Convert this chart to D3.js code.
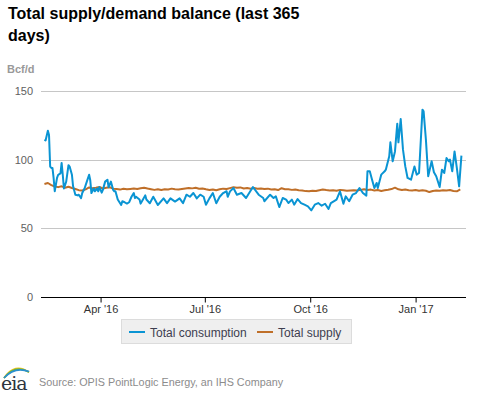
<!DOCTYPE html>
<html>
<head>
<meta charset="utf-8">
<script src="https://cdn.jsdelivr.net/npm/d3@7/dist/d3.min.js"></script>
<style>
  html, body { margin: 0; padding: 0; background: #fff; }
  svg { display: block; font-family: "Liberation Sans", Arial, sans-serif; }
</style>
</head>
<body>
<svg id="chart" width="477" height="393"></svg>
<script>
// ---------- DATA ----------
const startDate = "2016-02-12";
const axisStart = "2016-02-09";
const axisEnd = "2017-02-14";

// Total consumption: [days since startDate]
const consumptionDays = [0,1,3,4,5,6,7,8,9,11,12,14,15,16,17,19,21,22,24,25,27,29,30,32,33,35,37,39,40,41,43,44,46,47,48,50,51,53,55,56,58,60,61,62,64,67,68,70,72,74,76,78,79,80,83,84,86,88,89,
  92,95,99,104,107,110,114,118,121,124,127,130,133,136,139,141,144,147,150,153,156,159,160,
  162,165,168,172,176,182,187,191,192,197,200,202,205,208,211,213,216,218,221,224,227,230,233,236,239,242,245,248,250,255,258,261,263,266,269,272,275,278,281,
  282,284,286,288,290,291,294,297,298,301,302,304,306,308,309,311,313,315,317,320,323,325,327,330,331,333,335,338,340,342,345,347,349,351,353,354,356,358,360,362,364];
const consumptionValues = [114.6,114,121,118,95,94,94,86.7,77,86.7,89,90,97.6,89,79,84,96,95,89,80.6,74.5,74,74.5,72,75.7,79,84,89,85,75.7,79,77,79,77,80,76,78,84,85.4,80,84,78,77,77,71,67,69.7,69,68,69,73,75.7,72,73,71,68,71,74,71,
  68.3,73,67,71.8,68.3,71.8,69.5,71.8,68.3,74.5,73,75.7,71.8,74.5,73,67.2,71.8,75.7,68.3,73,75.7,77,73,
  76.9,79.4,74.5,75.7,72.1,80.1,74.5,72.1,69.7,74.5,72.1,73.3,65.5,72.1,70.9,68.4,70.9,67.2,71.3,68.4,67.2,66,63.1,67.2,68.4,66.5,67.9,64.1,68.4,70.9,76.9,67.9,73.3,69.7,74.5,75.7,79.4,75.7,73.8,
  91.5,91.5,85.4,79.4,83,79.4,89.1,91.5,92.7,102.4,112.6,98.8,106,126.2,112.6,129.6,107.3,95.1,86.7,85.4,95.1,89.1,90.3,136.4,135.2,114.6,87.9,98.8,90.8,87.9,80.1,92.7,90.3,101.2,98.8,100,91.5,106,94,80.6,102.9];

// Total supply: one reading every 3 days from startDate
const supplyStep = 3;
const supplyValues = [82.3,83.0,81.5,80.5,80.0,80.6,79.6,80.3,79.4,78.6,77.8,77.6,78.4,79.8,79.2,79.6,80.1,79.0,79.5,79.9,
  78.9,78.6,78.2,78.8,78.4,78.7,79.0,78.6,79.2,79.6,79.0,78.5,78.0,78.4,77.9,78.5,78.3,78.9,78.4,78.2,
  78.6,79.0,79.4,79.1,79.5,78.8,79.0,78.4,77.9,78.3,77.8,78.4,78.9,78.6,79.3,80.0,79.5,79.8,79.0,79.3,
  78.9,79.4,78.8,79.0,78.6,78.9,78.3,78.5,77.9,79.2,78.5,78.4,78.0,78.3,77.8,77.6,77.1,77.0,77.4,77.2,
  77.8,78.3,77.9,77.6,77.8,77.4,78.0,77.7,77.3,77.6,77.8,77.5,78.0,78.4,77.9,78.2,77.6,77.9,77.2,77.7,
  78.1,78.6,79.6,78.4,77.9,78.3,77.8,77.6,77.9,77.3,77.8,77.4,76.4,77.2,77.6,77.3,77.8,77.5,77.9,77.2,
  77.0,78.4];

const xTickDates = ["2016-04-01","2016-07-01","2016-10-01","2017-01-01"];
const xTickLabels = ["Apr '16","Jul '16","Oct '16","Jan '17"];
const yTicks = [0, 50, 100, 150];

const seriesNames = ["Total consumption", "Total supply"];
const seriesColors = ["#0a94d3", "#bf6f29"];

const titleLines = ["Total supply/demand balance (last 365", "days)"];
const unitLabel = "Bcf/d";
const sourceText = "Source: OPIS PointLogic Energy, an IHS Company";

// ---------- BUILD ----------
const parse = d3.utcParse("%Y-%m-%d");
const dayMs = 86400000;
const t0 = parse(startDate).getTime();
const consumption = consumptionDays.map((d, i) => ({date: new Date(t0 + d * dayMs), value: consumptionValues[i]}));
const supply = supplyValues.map((v, i) => ({date: new Date(t0 + i * supplyStep * dayMs), value: v}));

const svg = d3.select("#chart");
const plot = {left: 41, right: 466, top: 91, bottom: 297};

const x = d3.scaleUtc().domain([parse(axisStart), parse(axisEnd)]).range([plot.left, plot.right]);
const y = d3.scaleLinear().domain([0, 150]).range([plot.bottom, plot.top]);

// Title
svg.append("text")
  .attr("x", 8).attr("y", 19)
  .attr("font-size", 16).attr("font-weight", "bold").attr("fill", "#000")
  .selectAll("tspan").data(titleLines).join("tspan")
  .attr("x", 8).attr("dy", (d, i) => i === 0 ? 0 : 21.5)
  .text(d => d);

// Unit label
svg.append("text").attr("x", 7).attr("y", 72.5)
  .attr("font-size", 11).attr("font-weight", "bold").attr("fill", "#999")
  .text(unitLabel);

// Gridlines
svg.append("g").selectAll("line").data(yTicks.filter(t => t > 0)).join("line")
  .attr("x1", plot.left).attr("x2", plot.right)
  .attr("y1", d => Math.round(y(d)) + 0.5).attr("y2", d => Math.round(y(d)) + 0.5)
  .attr("stroke", "#c6c6c6").attr("stroke-width", 1);

// Y labels
svg.append("g").selectAll("text").data(yTicks).join("text")
  .attr("x", 33).attr("y", d => y(d) + 4)
  .attr("text-anchor", "end").attr("font-size", 11).attr("fill", "#606060")
  .text(d => d);

// X axis
const xAxis = d3.axisBottom(x)
  .tickValues(xTickDates.map(parse))
  .tickFormat((d, i) => xTickLabels[i])
  .tickSizeOuter(0).tickSize(5).tickPadding(3);
const gx = svg.append("g").attr("transform", `translate(0,${Math.round(plot.bottom) + 0.5})`).call(xAxis);
gx.select(".domain").attr("stroke", "#000").attr("d", `M${plot.left},0H${plot.right}`);
gx.selectAll(".tick line").attr("stroke", "#000");
gx.selectAll(".tick text").attr("font-size", 11).attr("fill", "#333")
  .attr("font-family", "'Liberation Sans', Arial, sans-serif");

// Lines
const line = d3.line().x(d => x(d.date)).y(d => y(d.value)).curve(d3.curveLinear);
svg.append("path").datum(supply).attr("d", line)
  .attr("fill", "none").attr("stroke", seriesColors[1]).attr("stroke-width", 2).attr("stroke-linejoin", "round");
svg.append("path").datum(consumption).attr("d", line)
  .attr("fill", "none").attr("stroke", seriesColors[0]).attr("stroke-width", 2).attr("stroke-linejoin", "round");

// Legend
const lg = svg.append("g");
lg.append("rect").attr("x", 121.5).attr("y", 319.5).attr("width", 230).attr("height", 24)
  .attr("fill", "#efefef").attr("stroke", "#dcdcdc");
const legendItems = [{x: 129, tx: 150}, {x: 257, tx: 278}];
legendItems.forEach((it, i) => {
  lg.append("line").attr("x1", it.x).attr("x2", it.x + 16).attr("y1", 332).attr("y2", 332)
    .attr("stroke", seriesColors[i]).attr("stroke-width", 2);
  lg.append("text").attr("x", it.tx).attr("y", 336.5).attr("font-size", 12).attr("fill", "#3d3d4f")
    .text(seriesNames[i]);
});

// EIA logo
const logo = svg.append("g");
const arc = (r, color, w) => logo.append("path")
  .attr("d", `M${4},${378} Q${15},${364 - r} ${29},${372 + r * 0.2}`)
  .attr("fill", "none").attr("stroke", color).attr("stroke-width", w);
arc(2, "#f2c419", 1.6);
arc(0, "#6bb443", 1.6);
arc(-2, "#2a8fcf", 1.6);
logo.append("text").attr("x", 1).attr("y", 390).attr("font-size", 19)
  .attr("font-family", "'DejaVu Serif', 'Liberation Serif', serif").attr("fill", "#2d3540")
  .attr("letter-spacing", -1).text("eia");

// Source
svg.append("text").attr("x", 39).attr("y", 386).attr("font-size", 10.8).attr("fill", "#8c8c8c")
  .text(sourceText);
</script>
</body>
</html>
